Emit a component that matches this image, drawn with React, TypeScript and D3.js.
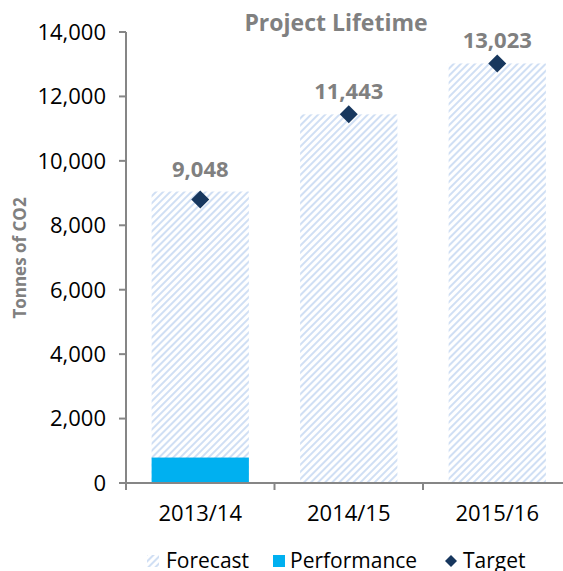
import React from "react";
import * as d3 from "d3";

const categories = ["2013/14", "2014/15", "2015/16"];
const forecast = [9048, 11443, 13023];
const performance = [790, 0, 0];
const target = [8800, 11443, 13023];
const yTicks = [0, 2000, 4000, 6000, 8000, 10000, 12000, 14000];
const legendItems = ["Forecast", "Performance", "Target"];

const W = 563;
const H = 571;
const FONT = "'Open Sans', 'Noto Sans', sans-serif";

export default function App() {
  const x0 = 126;
  const x1 = 571.5;
  const yTop = 32;
  const yBottom = 483;
  const x = d3.scaleBand<string>().domain(categories).range([x0, x1]).paddingInner(0.345).paddingOuter(0.1725);
  const y = d3.scaleLinear().domain([0, 14000]).range([yBottom, yTop]);
  const fmt = d3.format(",");
  const bw = x.bandwidth();
  const dm = 9;
  const diamond = (cx: number, cy: number, s: number) =>
    `M${cx},${cy - s}L${cx + s},${cy}L${cx},${cy + s}L${cx - s},${cy}Z`;

  return (
    <svg width={W} height={H} style={{ position: "absolute", left: 0, top: 0 }}>
      <defs>
        <pattern id="hatch" patternUnits="userSpaceOnUse" width="5" height="5" patternTransform="rotate(45)">
          <rect width="5" height="5" fill="#ffffff" />
          <rect x="0" y="0" width="2" height="5" fill="#d0dff4" />
        </pattern>
      </defs>
      <rect width={W} height={H} fill="#fff" />
      {/* title */}
      <text x={336} y={31} textAnchor="middle" fontFamily={FONT} fontWeight="bold" fontSize={23} fill="#808080">
        Project Lifetime
      </text>
      {/* y title */}
      <text
        transform={`translate(26,258) rotate(-90)`}
        textAnchor="middle"
        fontFamily={FONT}
        fontWeight="bold"
        fontSize={17}
        fill="#808080"
      >
        Tonnes of CO2
      </text>
      {/* bars */}
      {categories.map((c, i) => (
        <rect key={"f" + c} x={x(c)} y={y(forecast[i])} width={bw} height={y(0) - y(forecast[i])} fill="url(#hatch)" />
      ))}
      {categories.map((c, i) =>
        performance[i] > 0 ? (
          <rect key={"p" + c} x={x(c)} y={y(performance[i])} width={bw} height={y(0) - y(performance[i])} fill="#00b0f0" />
        ) : null
      )}
      {categories.map((c, i) => (
        <path key={"t" + c} d={diamond((x(c) as number) + bw / 2, y(target[i]), dm)} fill="#17375e" />
      ))}
      {categories.map((c, i) => (
        <text
          key={"l" + c}
          x={(x(c) as number) + bw / 2}
          y={y(forecast[i]) - 15}
          textAnchor="middle"
          fontFamily={FONT}
          fontWeight="bold"
          fontSize={22}
          fill="#808080"
        >
          {fmt(forecast[i])}
        </text>
      ))}
      {/* y axis */}
      <line x1={x0} x2={x0} y1={yTop} y2={yBottom} stroke="#868686" strokeWidth={2} />
      {yTicks.map((t) => (
        <g key={t}>
          <line x1={x0 - 7} x2={x0} y1={y(t)} y2={y(t)} stroke="#868686" strokeWidth={2} />
          <text x={106} y={y(t)} dy="0.36em" textAnchor="end" fontFamily={FONT} fontSize={22} fill="#000">
            {fmt(t)}
          </text>
        </g>
      ))}
      {/* x axis */}
      <line x1={x0 - 7} x2={W} y1={yBottom} y2={yBottom} stroke="#868686" strokeWidth={2} />
      {[0, 1, 2, 3].map((i) => {
        const px = x0 + ((x1 - x0) / 3) * i;
        return <line key={i} x1={px} x2={px} y1={yBottom} y2={yBottom + 7} stroke="#868686" strokeWidth={2} />;
      })}
      {categories.map((c) => (
        <text key={"x" + c} x={(x(c) as number) + bw / 2} y={521} textAnchor="middle" fontFamily={FONT} fontSize={22} fill="#000">
          {c}
        </text>
      ))}
      {/* legend */}
      <rect x={147} y={555} width={12} height={12} fill="url(#hatch)" />
      <text x={166} y={568} fontFamily={FONT} fontSize={21} fill="#000">
        {legendItems[0]}
      </text>
      <rect x={273} y={555} width={12} height={12} fill="#00b0f0" />
      <text x={290} y={568} fontFamily={FONT} fontSize={21} fill="#000">
        {legendItems[1]}
      </text>
      <path d={diamond(451, 561, 6)} fill="#17375e" />
      <text x={463} y={568} fontFamily={FONT} fontSize={21} fill="#000">
        {legendItems[2]}
      </text>
    </svg>
  );
}
